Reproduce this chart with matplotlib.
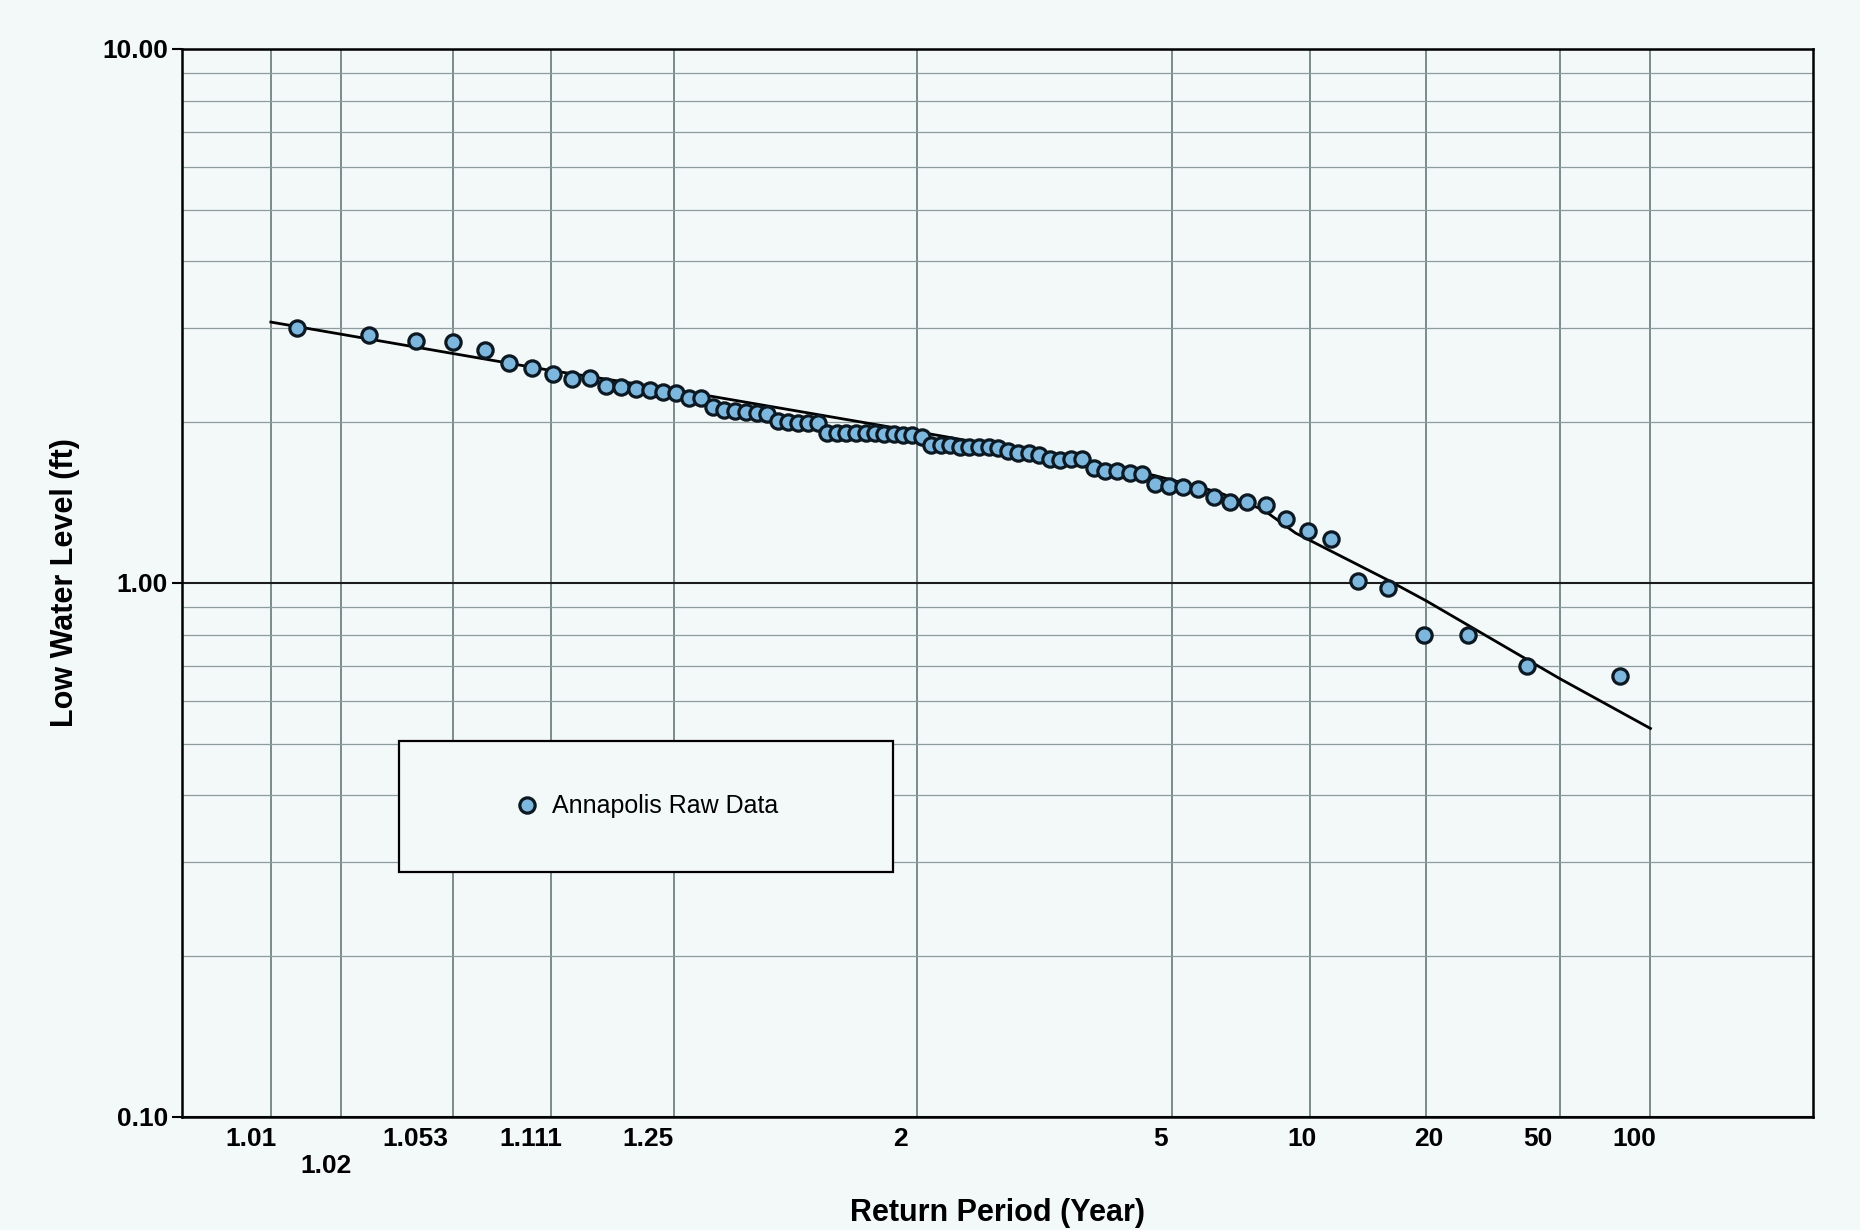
import math
import numpy as np
import matplotlib
matplotlib.use("Agg")
import matplotlib.pyplot as plt
import matplotlib.ticker as mticker
import matplotlib.transforms as mtransforms
from matplotlib.patches import Rectangle

# ---- DATA ----
return_period = [1.013, 1.026, 1.039, 1.053, 1.068, 1.082, 1.097, 1.113, 1.129, 1.145,
                 1.162, 1.179, 1.197, 1.215, 1.234, 1.254, 1.274, 1.295, 1.317, 1.339,
                 1.362, 1.386, 1.411, 1.436, 1.463, 1.491, 1.519, 1.549, 1.580, 1.612,
                 1.646, 1.681, 1.717, 1.756, 1.795, 1.837, 1.881, 1.927, 1.975, 2.026,
                 2.079, 2.135, 2.194, 2.257, 2.324, 2.394, 2.469, 2.548, 2.633, 2.724,
                 2.821, 2.926, 3.038, 3.160, 3.292, 3.435, 3.591, 3.762, 3.950, 4.158,
                 4.389, 4.647, 4.938, 5.267, 5.643, 6.077, 6.583, 7.182, 7.900, 8.778,
                 9.875, 11.286, 13.167, 15.800, 19.750, 26.333, 39.500, 79.0]
low_water = [3.00, 2.91, 2.84, 2.83, 2.73, 2.58, 2.53, 2.46, 2.41, 2.42,
             2.34, 2.33, 2.31, 2.30, 2.28, 2.27, 2.22, 2.22, 2.14, 2.11,
             2.10, 2.09, 2.08, 2.07, 2.01, 2.00, 1.99, 1.99, 1.99, 1.91,
             1.91, 1.91, 1.91, 1.91, 1.91, 1.90, 1.90, 1.89, 1.89, 1.88,
             1.81, 1.81, 1.81, 1.80, 1.80, 1.80, 1.80, 1.79, 1.77, 1.75,
             1.75, 1.74, 1.71, 1.70, 1.71, 1.71, 1.64, 1.62, 1.62, 1.61,
             1.60, 1.53, 1.52, 1.51, 1.50, 1.45, 1.42, 1.42, 1.40, 1.32,
             1.25, 1.21, 1.01, 0.98, 0.80, 0.80, 0.70, 0.67]

# fitted frequency curve
fit_period = [1.01, 1.111, 1.25, 2.0, 3.46, 4.62, 6.2, 7.8, 9.25, 15.6, 20, 50, 100]
fit_level = [3.08, 2.50, 2.30, 1.92, 1.69, 1.59, 1.48, 1.37, 1.24, 1.016, 0.926, 0.662, 0.534]

x_ticks = [1.01, 1.02, 1.053, 1.111, 1.25, 2, 5, 10, 20, 50, 100]
x_ticklabels = ["1.01", "\n1.02", "1.053", "1.111", "1.25", "2", "5", "10", "20", "50", "100"]
y_ticks = [0.1, 1, 10]
y_ticklabels = ["0.10", "1.00", "10.00"]

# ---- PROBABILITY SCALE (frequency factor, slight positive skew) ----
SKEW = 0.165
A = [-3.969683028665376e+01, 2.209460984245205e+02, -2.759285104469687e+02,
     1.383577518672690e+02, -3.066479806614716e+01, 2.506628277459239e+00]
B = [-5.447609879822406e+01, 1.615858368580409e+02, -1.556989798598866e+02,
     6.680131188771972e+01, -1.328068155288572e+01, 1.0]
C = [-7.784894002430293e-03, -3.223964580411365e-01, -2.400758277161838e+00,
     -2.549732539343734e+00, 4.374664141464968e+00, 2.938163982698783e+00]
D = [7.784695709041462e-03, 3.224671290700398e-01, 2.445134137142996e+00,
     3.754408661907416e+00, 1.0]
_erfc = np.vectorize(math.erfc)


def norm_ppf(p):
    p = np.asarray(p, dtype=float)
    shape = p.shape
    p = np.atleast_1d(p)
    out = np.full_like(p, np.nan)
    lo = p < 0.02425
    hi = p > 1 - 0.02425
    mid = ~(lo | hi) & np.isfinite(p)
    with np.errstate(all="ignore"):
        q = np.sqrt(-2 * np.log(p[lo]))
        out[lo] = np.polyval(C, q) / np.polyval(D, q)
        q = p[mid] - 0.5
        out[mid] = np.polyval(A, q * q) * q / np.polyval(B, q * q)
        q = np.sqrt(-2 * np.log(1 - p[hi]))
        out[hi] = -np.polyval(C, q) / np.polyval(D, q)
    return out.reshape(shape)


def t_to_k(t):
    t = np.asarray(t, dtype=float)
    with np.errstate(all="ignore"):
        p = np.clip(1.0 - 1.0 / t, 1e-10, 1 - 1e-10)
    z = norm_ppf(p)
    return (2 / SKEW) * ((1 + SKEW * z / 6 - SKEW ** 2 / 36) ** 3 - 1)


def k_to_t(k):
    k = np.asarray(k, dtype=float)
    base = np.clip(1 + SKEW * k / 2, 1e-12, None)
    z = (6 / SKEW) * (np.cbrt(base) - 1 + SKEW ** 2 / 36)
    q = 0.5 * _erfc(z / math.sqrt(2))
    return 1.0 / np.clip(q, 1e-300, None)


# ---- STYLE ----
BG = "#F3F8F9"
plt.rcParams.update({
    "figure.facecolor": BG,
    "axes.facecolor": BG,
    "font.family": ["Liberation Sans", "DejaVu Sans"],
})

fig = plt.figure(figsize=(18.6, 12.3), dpi=100)
ax = fig.add_axes([0.0978, 0.0919, 0.8769, 0.8683])

ax.set_xscale("function", functions=(t_to_k, k_to_t))
ax.set_yscale("log")
ax.set_xlim(1.00373, 398)
ax.set_ylim(0.1, 10)

# ---- MARKS ----
ax.plot(fit_period, fit_level, color="black", linewidth=2.0, zorder=3)
ax.plot(return_period, low_water, linestyle="none", marker="o", markersize=11,
        markerfacecolor="#7db7de", markeredgecolor="#0c1822", markeredgewidth=2.3,
        zorder=4, label="Annapolis Raw Data")

# ---- AXES ----
ax.xaxis.set_major_locator(mticker.FixedLocator(x_ticks))
ax.xaxis.set_major_formatter(mticker.FixedFormatter(x_ticklabels))
ax.xaxis.set_minor_locator(mticker.NullLocator())
ax.yaxis.set_major_locator(mticker.FixedLocator(y_ticks))
ax.yaxis.set_major_formatter(mticker.FixedFormatter(y_ticklabels))
ax.yaxis.set_minor_locator(mticker.LogLocator(base=10, subs=np.arange(2, 10)))
ax.yaxis.set_minor_formatter(mticker.NullFormatter())

ax.tick_params(axis="x", which="both", length=0, pad=7, labelsize=19)
ax.tick_params(axis="y", which="major", length=7, width=1.5, pad=3, labelsize=19)
ax.tick_params(axis="y", which="minor", length=0)
for lab in ax.get_xticklabels() + ax.get_yticklabels():
    lab.set_fontweight("bold")

# labels in the scan sit a little to the left of their grid lines
label_shift = [-20, -15, -38, -20, -26, -17, -11, -8, 3, -22, -16]
for lab, dx in zip(ax.get_xticklabels(), label_shift):
    lab.set_transform(lab.get_transform() +
                      mtransforms.ScaledTranslation(dx / 100, 0, fig.dpi_scale_trans))

ax.set_axisbelow(True)
ax.grid(which="major", axis="x", color="#5b6d6e", linewidth=1.1)
ax.grid(which="major", axis="y", color="#1c1c1c", linewidth=1.5)
ax.grid(which="minor", axis="y", color="#8d9c9c", linewidth=0.9)
for side in ax.spines.values():
    side.set_linewidth(1.8)
    side.set_color("black")

ax.set_xlabel("Return Period (Year)", fontsize=22, fontweight="bold", labelpad=14)
ax.set_ylabel("Low Water Level (ft)", fontsize=22, fontweight="bold", labelpad=16)

# ---- LEGEND (boxed, covers grid) ----
ax.add_patch(Rectangle((0.1330, 0.2294), 0.3029, 0.1226, transform=ax.transAxes,
                       facecolor=BG, edgecolor="black", linewidth=1.6, zorder=5))
leg = ax.legend(loc="center", bbox_to_anchor=(0.2845, 0.2907), frameon=False,
                fontsize=18, handlelength=1.0, handletextpad=0.5, borderpad=0)
leg.set_zorder(6)

plt.savefig("out.png", dpi=100, facecolor=BG)
plt.close()
